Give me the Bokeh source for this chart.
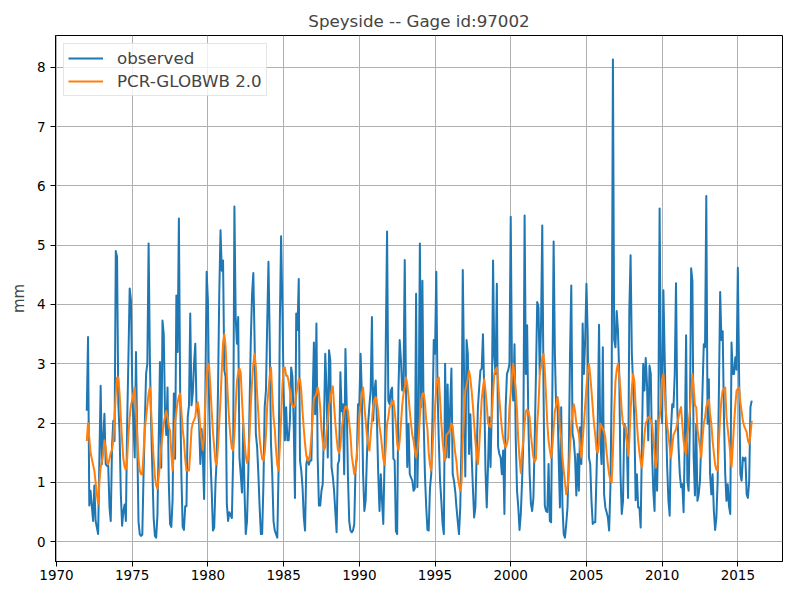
from bokeh.plotting import figure
from bokeh.models import FixedTicker
from bokeh.embed import file_html
from bokeh.resources import INLINE

# monthly series, Jan 1972 .. Dec 2015
start_year = 1972
observed = [
    2.21, 3.45, 0.61, 0.86, 0.60, 0.35, 0.95, 0.35, 0.24, 0.13, 1.42, 2.63,  # 1972
    1.31, 1.73, 2.16, 1.31, 1.28, 1.28, 0.58, 0.35, 1.60, 2.04, 1.70, 4.90,  # 1973
    4.80, 2.33, 1.82, 0.80, 0.27, 0.52, 0.63, 0.35, 1.99, 3.10, 4.27, 4.07,  # 1974
    2.65, 1.99, 1.42, 3.20, 1.70, 0.34, 0.13, 0.10, 0.12, 1.14, 2.00, 2.83,  # 1975
    3.00, 5.03, 3.10, 2.00, 1.20, 0.40, 0.10, 0.07, 0.45, 1.70, 3.03, 1.25,  # 1976
    3.73, 3.50, 2.20, 1.80, 2.60, 1.00, 0.30, 0.25, 0.70, 2.50, 1.40, 4.15,  # 1977
    3.20, 5.45, 2.55, 1.10, 0.25, 0.20, 0.60, 0.60, 2.10, 2.30, 3.85, 2.30,  # 1978
    2.50, 3.00, 3.34, 2.27, 2.27, 2.00, 1.31, 1.90, 1.42, 0.72, 2.55, 4.55,  # 1979
    4.07, 2.27, 1.42, 0.86, 0.19, 0.24, 0.97, 1.42, 2.55, 4.18, 5.25, 4.57,  # 1980
    4.74, 2.89, 2.78, 0.64, 0.35, 0.50, 0.45, 0.40, 1.42, 5.65, 3.79, 3.34,  # 1981
    3.79, 1.42, 1.14, 0.83, 1.99, 0.86, 0.13, 0.35, 1.14, 2.27, 3.40, 4.18,  # 1982
    4.53, 3.40, 1.82, 1.60, 1.14, 0.58, 0.13, 0.13, 0.97, 2.27, 2.55, 3.68,  # 1983
    4.72, 3.40, 1.65, 1.14, 0.35, 0.19, 0.13, 0.07, 1.20, 3.68, 5.15, 4.00,  # 1984
    2.55, 1.71, 2.27, 1.71, 1.71, 2.04, 2.94, 2.78, 1.99, 0.74, 3.85, 3.57,  # 1985
    4.43, 1.37, 1.20, 0.92, 0.41, 0.19, 1.31, 1.42, 1.30, 1.37, 1.37, 2.38,  # 1986
    3.36, 2.15, 3.68, 1.42, 0.61, 0.61, 0.86, 0.97, 2.00, 3.17, 2.60, 1.42,  # 1987
    3.23, 3.06, 1.26, 1.10, 0.86, 0.50, 0.16, 1.31, 1.37, 2.86, 2.20, 2.32,  # 1988
    1.14, 3.25, 2.32, 1.10, 0.35, 0.19, 0.16, 0.19, 0.30, 1.26, 1.42, 2.32,  # 1989
    2.30, 3.17, 2.50, 1.14, 0.52, 0.69, 1.42, 1.99, 2.30, 2.55, 3.79, 2.04,  # 1990
    2.55, 2.72, 2.00, 1.14, 0.52, 1.14, 0.69, 0.30, 1.37, 3.40, 5.23, 2.38,  # 1991
    2.32, 2.55, 2.60, 1.40, 1.37, 0.18, 0.13, 2.55, 3.40, 3.06, 2.55, 2.60,  # 1992
    4.75, 2.55, 1.26, 1.99, 1.14, 1.08, 1.03, 0.86, 0.90, 4.18, 0.92, 2.00,  # 1993
    5.03, 2.27, 4.40, 2.04, 1.14, 0.60, 0.20, 0.19, 0.90, 1.14, 2.10, 3.40,  # 1994
    3.17, 4.55, 2.55, 1.71, 1.03, 0.69, 0.30, 0.13, 3.00, 1.42, 2.65, 1.42,  # 1995
    2.27, 2.92, 1.14, 1.03, 0.86, 0.58, 0.35, 0.13, 0.58, 1.71, 4.58, 2.89,  # 1996
    1.10, 3.40, 3.17, 1.48, 2.15, 1.48, 0.92, 0.41, 0.58, 1.48, 2.27, 2.60,  # 1997
    2.89, 2.92, 3.50, 2.55, 1.20, 0.58, 1.26, 2.10, 1.26, 2.27, 4.74, 3.11,  # 1998
    2.83, 4.35, 1.60, 1.48, 1.42, 1.14, 1.54, 0.47, 2.27, 2.83, 2.89, 3.00,  # 1999
    5.48, 2.83, 2.38, 3.33, 1.71, 0.86, 0.58, 0.20, 0.47, 1.03, 1.71, 5.50,  # 2000
    2.83, 3.65, 1.99, 1.14, 0.64, 0.52, 0.75, 1.71, 2.83, 4.04, 3.96, 2.83,  # 2001
    3.62, 5.33, 2.55, 0.61, 0.52, 0.50, 1.31, 0.35, 0.33, 2.55, 5.06, 3.17,  # 2002
    2.27, 2.43, 1.42, 0.58, 2.27, 0.61, 0.13, 0.07, 0.30, 0.58, 1.42, 3.17,  # 2003
    4.32, 1.82, 1.71, 1.42, 0.78, 1.48, 0.86, 1.93, 1.31, 3.68, 2.83, 3.40,  # 2004
    4.35, 3.51, 1.42, 1.31, 0.69, 0.30, 0.33, 0.33, 1.14, 2.04, 3.66, 1.71,  # 2005
    1.31, 3.28, 0.80, 0.58, 0.50, 0.41, 0.19, 0.92, 2.55, 8.13, 3.40, 3.28,  # 2006
    3.89, 3.56, 2.83, 1.14, 0.47, 0.69, 1.99, 1.93, 1.71, 0.74, 3.90, 4.83,  # 2007
    3.17, 2.66, 2.04, 0.70, 1.14, 0.58, 0.58, 0.24, 1.71, 3.00, 2.55, 3.10,  # 2008
    2.66, 1.71, 2.97, 2.83, 1.54, 0.86, 0.52, 2.04, 0.86, 2.04, 5.62, 2.83,  # 2009
    2.00, 4.24, 3.15, 2.10, 1.26, 0.69, 0.44, 1.88, 2.32, 2.27, 2.83, 4.36,  # 2010
    2.27, 1.60, 1.14, 0.92, 0.97, 0.50, 1.71, 3.48, 1.03, 0.86, 1.99, 4.61,  # 2011
    4.40, 1.42, 0.78, 1.99, 0.69, 0.80, 1.03, 1.71, 2.55, 3.33, 3.28, 5.83,  # 2012
    1.99, 2.74, 1.14, 0.80, 1.14, 0.52, 0.20, 0.41, 1.03, 2.55, 4.21, 3.40,  # 2013
    3.55, 2.10, 1.14, 0.69, 0.97, 0.60, 0.47, 3.36, 2.83, 2.83, 3.11, 2.90,  # 2014
    4.62, 2.83, 1.14, 1.03, 1.42, 1.37, 1.42, 0.80, 0.74, 1.03, 2.27, 2.38,  # 2015
]
pcr_globwb = [
    1.70, 2.00, 1.75, 1.50, 1.40, 1.30, 1.20, 1.00, 0.80, 0.64, 1.00, 1.26,  # 1972
    1.35, 1.50, 1.71, 1.60, 1.35, 1.31, 1.40, 1.50, 1.55, 1.70, 2.10, 2.50,  # 1973
    2.77, 2.77, 2.50, 2.10, 1.70, 1.40, 1.26, 1.22, 1.40, 1.80, 2.10, 2.30,  # 1974
    2.40, 2.50, 2.60, 2.20, 1.80, 1.40, 1.20, 1.14, 1.14, 1.50, 1.90, 2.10,  # 1975
    2.30, 2.50, 2.60, 2.20, 1.80, 1.40, 1.10, 0.95, 0.89, 1.10, 1.30, 1.60,  # 1976
    1.80, 2.00, 2.10, 2.21, 2.10, 1.95, 1.87, 1.50, 1.20, 1.50, 2.04, 2.20,  # 1977
    2.35, 2.45, 2.50, 2.20, 1.90, 1.71, 1.40, 1.20, 1.20, 1.20, 1.50, 1.90,  # 1978
    2.00, 2.05, 2.10, 2.30, 2.35, 2.20, 1.90, 1.71, 1.55, 1.80, 2.40, 2.80,  # 1979
    3.00, 2.95, 2.60, 2.20, 1.85, 1.60, 1.35, 1.31, 1.60, 2.00, 2.40, 2.90,  # 1980
    3.35, 3.50, 3.30, 2.80, 2.35, 2.00, 1.75, 1.57, 1.54, 1.80, 2.30, 2.70,  # 1981
    2.85, 2.92, 2.85, 2.40, 2.00, 1.70, 1.45, 1.33, 1.40, 1.80, 2.30, 2.70,  # 1982
    3.00, 3.17, 2.95, 2.50, 2.15, 1.75, 1.55, 1.40, 1.37, 1.50, 1.80, 2.30,  # 1983
    2.55, 2.80, 2.94, 2.50, 2.10, 1.90, 1.55, 1.30, 1.20, 1.60, 2.10, 2.60,  # 1984
    2.94, 2.94, 2.80, 2.80, 2.70, 2.55, 2.35, 2.30, 2.27, 2.30, 2.50, 2.60,  # 1985
    2.74, 2.74, 2.55, 2.20, 1.90, 1.65, 1.45, 1.37, 1.37, 1.50, 1.75, 2.10,  # 1986
    2.40, 2.45, 2.50, 2.60, 2.50, 2.27, 1.90, 1.70, 1.55, 1.60, 1.85, 2.05,  # 1987
    2.30, 2.40, 2.55, 2.62, 2.30, 2.00, 1.75, 1.55, 1.50, 1.60, 1.90, 2.05,  # 1988
    2.20, 2.28, 2.28, 2.20, 2.00, 1.80, 1.45, 1.30, 1.14, 1.20, 1.45, 1.75,  # 1989
    2.10, 2.30, 2.50, 2.60, 2.30, 2.05, 1.80, 1.65, 1.54, 1.80, 2.05, 2.30,  # 1990
    2.40, 2.44, 2.35, 2.20, 1.95, 1.80, 1.60, 1.40, 1.30, 1.60, 1.99, 2.10,  # 1991
    2.27, 2.30, 2.32, 2.38, 2.20, 1.99, 1.65, 1.54, 1.70, 1.99, 2.30, 2.50,  # 1992
    2.60, 2.77, 2.65, 2.45, 2.20, 1.99, 1.80, 1.71, 1.55, 1.42, 1.55, 1.75,  # 1993
    2.10, 2.38, 2.50, 2.50, 2.35, 2.05, 1.90, 1.50, 1.30, 1.20, 1.55, 2.00,  # 1994
    2.27, 2.60, 2.75, 2.77, 2.40, 2.00, 1.70, 1.50, 1.37, 1.80, 1.82, 1.85,  # 1995
    1.90, 1.99, 1.95, 1.71, 1.50, 1.35, 1.10, 0.97, 0.86, 1.00, 1.71, 2.10,  # 1996
    2.55, 2.65, 2.75, 2.88, 2.75, 2.55, 2.30, 1.99, 1.70, 1.45, 1.31, 1.60,  # 1997
    2.00, 2.40, 2.60, 2.74, 2.55, 2.30, 2.00, 1.95, 1.93, 2.10, 2.50, 2.83,  # 1998
    2.90, 2.94, 2.70, 2.40, 2.15, 1.90, 1.75, 1.65, 1.59, 1.65, 1.75, 2.27,  # 1999
    2.50, 2.80, 3.00, 2.80, 2.55, 2.20, 1.71, 1.40, 1.16, 1.50, 1.71, 2.00,  # 2000
    2.20, 2.23, 2.20, 2.10, 1.80, 1.60, 1.42, 1.35, 1.40, 2.00, 2.30, 2.83,  # 2001
    2.95, 3.10, 3.17, 2.90, 2.45, 2.00, 1.70, 1.55, 1.42, 1.60, 1.90, 2.20,  # 2002
    2.30, 2.44, 2.30, 1.93, 1.75, 1.42, 1.20, 1.00, 0.80, 0.90, 1.14, 1.60,  # 2003
    1.99, 2.15, 2.32, 2.20, 1.99, 1.90, 1.82, 1.60, 1.42, 1.70, 1.99, 2.30,  # 2004
    2.60, 2.85, 3.00, 2.80, 2.55, 2.27, 1.99, 1.80, 1.55, 1.50, 1.70, 1.99,  # 2005
    1.95, 1.90, 1.86, 1.75, 1.50, 1.30, 1.14, 1.03, 1.00, 1.50, 2.20, 2.70,  # 2006
    2.90, 3.00, 2.80, 2.55, 2.20, 1.99, 1.95, 1.93, 1.71, 1.45, 1.70, 2.20,  # 2007
    2.60, 2.83, 2.70, 2.30, 1.99, 1.71, 1.50, 1.35, 1.25, 1.50, 1.80, 2.00,  # 2008
    2.04, 2.10, 2.10, 2.05, 1.99, 1.75, 1.48, 1.25, 1.40, 1.99, 2.10, 2.30,  # 2009
    2.75, 2.83, 2.55, 2.20, 1.95, 1.80, 1.60, 1.42, 1.60, 1.80, 1.85, 1.90,  # 2010
    2.00, 2.10, 2.20, 2.27, 1.99, 1.71, 1.55, 1.48, 1.80, 1.99, 2.20, 2.50,  # 2011
    2.83, 2.60, 2.30, 2.27, 1.90, 1.75, 1.60, 1.42, 1.75, 1.99, 2.10, 2.27,  # 2012
    2.35, 2.40, 2.15, 1.99, 1.71, 1.50, 1.30, 1.22, 1.20, 1.71, 2.10, 2.40,  # 2013
    2.55, 2.58, 2.60, 2.10, 1.90, 1.71, 1.50, 1.26, 1.60, 1.99, 2.30, 2.55,  # 2014
    2.58, 2.60, 2.35, 2.20, 2.04, 1.95, 1.90, 1.85, 1.71, 1.65, 1.80, 2.04,  # 2015
]
year_ticks = [1970, 1975, 1980, 1985, 1990, 1995, 2000, 2005, 2010, 2015]
mm_ticks = [0, 1, 2, 3, 4, 5, 6, 7, 8]

# decimal years, one point per month
dates = [start_year + i / 12.0 for i in range(len(observed))]

FONT = "DejaVu Sans"

p = figure(width=784, height=584, output_backend="svg", toolbar_location=None,
           x_range=(1969.934, 2017.95), y_range=(-0.332, 8.534),
           title="Speyside -- Gage id:97002",
           min_border_left=55, min_border_right=2, min_border_top=35, min_border_bottom=23)

p.title.align = "center"
p.title.text_font = FONT
p.title.text_font_size = "16.7px"
p.title.text_font_style = "normal"

p.outline_line_color = "black"
p.outline_line_alpha = 1.0
p.outline_line_width = 1

p.xaxis.ticker = FixedTicker(ticks=year_ticks)
p.yaxis.ticker = FixedTicker(ticks=mm_ticks)
p.axis.major_tick_in = 0
p.axis.major_tick_out = 5
p.axis.minor_tick_line_color = None
p.axis.axis_line_color = "black"
p.axis.major_tick_line_color = "black"
p.axis.major_label_text_font = FONT
p.axis.major_label_text_font_size = "13.5px"
p.axis.major_label_text_color = "black"
p.xaxis.major_label_standoff = 3
p.yaxis.major_label_standoff = 5
p.yaxis.axis_label = "mm"
p.yaxis.axis_label_text_font = FONT
p.yaxis.axis_label_text_font_size = "15px"
p.yaxis.axis_label_text_font_style = "normal"
p.yaxis.axis_label_standoff = 6

p.grid.grid_line_color = "#b0b0b0"
p.grid.grid_line_width = 1

p.line(dates, observed, line_color="#1f77b4", line_width=2, line_join="round",
       legend_label="observed")
p.line(dates, pcr_globwb, line_color="#ff7f0e", line_width=2, line_join="round",
       legend_label="PCR-GLOBWB 2.0")

p.legend.location = "top_left"
p.legend.label_text_font = FONT
p.legend.label_text_font_size = "16.7px"
p.legend.border_line_color = "#cccccc"
p.legend.border_line_width = 1
p.legend.background_fill_alpha = 0.8
p.legend.margin = 8
p.legend.padding = 4
p.legend.spacing = 3
p.legend.glyph_width = 35
p.legend.glyph_height = 20
p.legend.label_height = 20
p.legend.label_standoff = 14

open("out.html", "w").write(file_html(p, INLINE))
